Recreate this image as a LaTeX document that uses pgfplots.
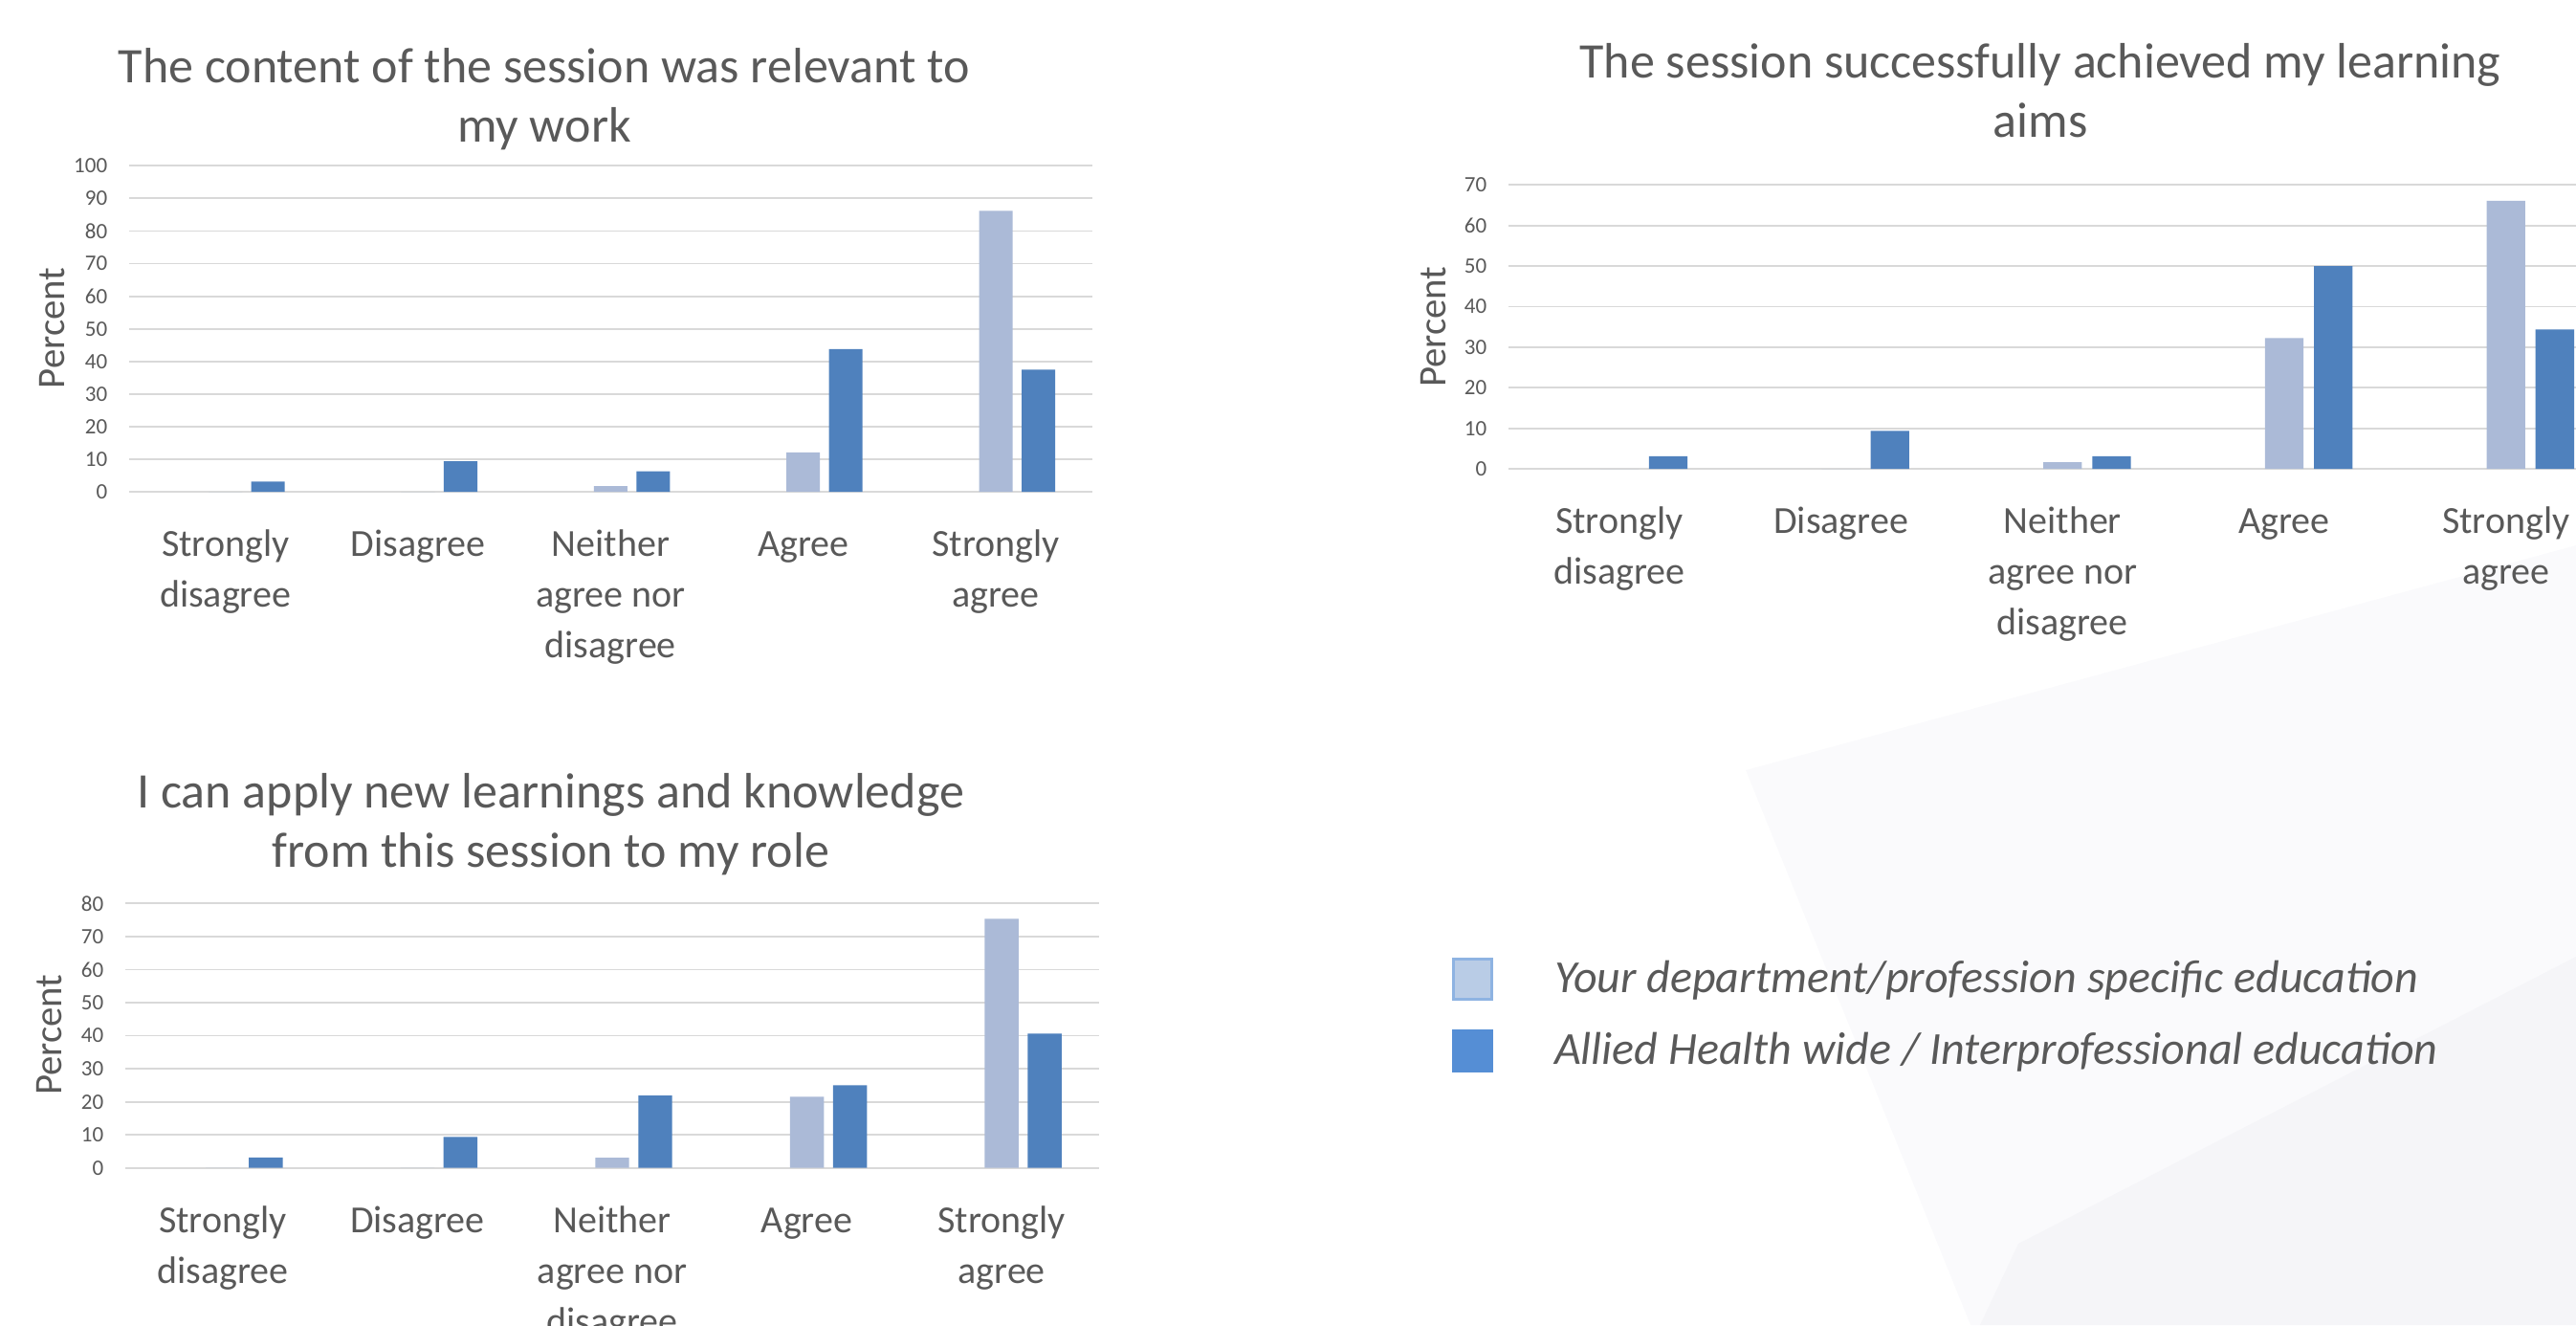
\documentclass[border=0pt]{standalone}
\usepackage{pgfplots}
\pgfplotsset{compat=1.18}
\usepackage{fontspec}
\setmainfont{Carlito}
\definecolor{textc}{HTML}{595959}
\definecolor{gridc}{HTML}{D9D9D9}
\definecolor{lightbar}{HTML}{ABBAD7}
\definecolor{darkbar}{HTML}{4F81BD}
\definecolor{leglightfill}{HTML}{B9CCE6}
\definecolor{leglightdraw}{HTML}{8EB3E2}
\definecolor{legdark}{HTML}{558ED5}
\definecolor{bgone}{HTML}{FAFAFC}
\definecolor{bgtwo}{HTML}{F5F5F8}
\pgfplotsset{
  likert/.style={
    scale only axis,
    anchor=south west,
    xmin=-0.5, xmax=4.5, ymin=0,
    xtick={0,1,2,3,4},
    xticklabels={{\strut Strongly\\disagree},{\strut Disagree},{\strut Neither\\agree nor\\disagree},{\strut Agree},{\strut Strongly\\agree}},
    ytick distance=10,
    ymajorgrids,
    grid style={draw=gridc, line width=0.45pt},
    axis line style={draw=none},
    major tick length=0pt,
    /pgf/number format/assume math mode=true,
    yticklabel style={font=\fontsize{5.75}{7}\selectfont, text=textc, anchor=east, inner sep=0pt, xshift=-5.5pt},
    xticklabel style={font=\fontsize{10}{13.25}\selectfont, text=textc, align=center, anchor=north, inner sep=0pt, yshift=-7.4pt},
    ylabel={Percent},
    ylabel style={font=\fontsize{10.2}{12}\selectfont, text=textc, anchor=center},
    every axis title shift=0pt,
    title style={font=\fontsize{13}{15.5}\selectfont, text=textc, align=center, anchor=center},
  },
  lightbars/.style={ybar, bar width=0.174, bar shift=0, fill=lightbar, draw=none, forget plot},
  darkbars/.style={ybar, bar width=0.174, bar shift=0.221, fill=darkbar, draw=none, forget plot},
}
\begin{document}
\begin{tikzpicture}
\useasboundingbox (0,0) rectangle (673.25pt,-346.25pt);
\clip (0,0) rectangle (673.25pt,-346.25pt);
\fill[bgone] (456.25pt,-201.25pt) -- (673.25pt,-142.5pt) -- (673.25pt,-346.25pt) -- (515pt,-346.25pt) -- cycle;
\fill[bgtwo] (527.5pt,-325pt) -- (673.25pt,-250pt) -- (673.25pt,-346.25pt) -- (517.5pt,-346.25pt) -- cycle;

% Chart 1
\begin{axis}[likert,
  at={(33.75pt,-128.5pt)}, width=251.675pt, height=85.175pt, ymax=100,
  title={The content of the session was relevant to\\my work},
  title style={at={(axis description cs:0.431,1.206)}},
  ylabel style={at={(axis description cs:-0.0795,0.502)}}]
\addplot[lightbars] coordinates {(0,0) (1,0) (2,1.72) (3,12.07) (4,86.21)};
\addplot[darkbars] coordinates {(0,3.13) (1,9.38) (2,6.25) (3,43.75) (4,37.5)};
\end{axis}

% Chart 2
\begin{axis}[likert,
  at={(394.25pt,-122.5pt)}, width=289.625pt, height=74.175pt, ymax=70,
  title={The session successfully achieved my learning\\aims},
  title style={at={(axis description cs:0.480,1.334)}},
  ylabel style={at={(axis description cs:-0.068,0.5)}},
  legend cell align=left,
  legend image code/.code={\draw[#1] (0pt,-5.25pt) rectangle (10pt,5.25pt);},
  legend style={at={(axis description cs:-0.0509,-1.722)}, anchor=north west,
    draw=none, fill=none, inner sep=0pt, outer sep=0pt,
    row sep=7.5pt, column sep=16pt,
    font=\fontsize{12}{14}\selectfont\itshape,
    nodes={inner sep=0pt, text=textc}, cells={anchor=west}}]
\addplot[lightbars] coordinates {(0,0) (1,0) (2,1.61) (3,32.26) (4,66.13)};
\addplot[darkbars] coordinates {(0,3.13) (1,9.38) (2,3.13) (3,50) (4,34.38)};
\addlegendimage{fill=leglightfill, draw=leglightdraw, line width=0.75pt}
\addlegendentry{Your department/profession specific education}
\addlegendimage{fill=legdark, draw=legdark, line width=0.75pt}
\addlegendentry{Allied Health wide / Interprofessional education}
\end{axis}

% Chart 3
\begin{axis}[likert,
  at={(32.75pt,-305.175pt)}, width=254.5pt, height=69.1pt, ymax=80,
  title={I can apply new learnings and knowledge\\from this session to my role},
  title style={at={(axis description cs:0.437,1.298)}},
  ylabel style={at={(axis description cs:-0.0779,0.503)}}]
\addplot[lightbars] coordinates {(0,0) (1,0) (2,3.08) (3,21.54) (4,75.38)};
\addplot[darkbars] coordinates {(0,3.13) (1,9.38) (2,21.88) (3,25) (4,40.63)};
\end{axis}
\end{tikzpicture}
\end{document}
